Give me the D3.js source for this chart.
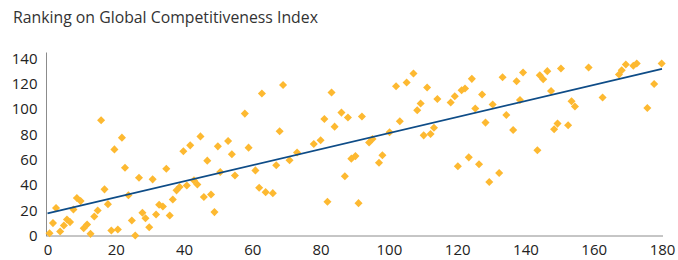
<!DOCTYPE html>
<html><head><meta charset="utf-8">
<script src="https://cdn.jsdelivr.net/npm/d3@7"></script>
<style>body{margin:0;background:#fff}svg{display:block}</style>
</head><body><div id="chart"></div>
<script>
const title = "Ranking on Global Competitiveness Index";
const xTicks = [0,20,40,60,80,100,120,140,160,180];
const yTicks = [0,20,40,60,80,100,120,140];
const xs = [0.6,1.6,2.5,3.7,4.8,5.7,6.6,7.6,8.6,9.7,10.6,11.6,12.6,13.7,14.7,15.7,16.7,17.7,18.7,19.6,20.6,21.8,22.7,23.7,24.7,25.7,26.8,27.8,28.7,29.8,30.8,31.8,32.7,33.8,34.8,35.8,36.7,37.8,38.7,39.8,40.8,41.8,42.9,43.9,44.8,45.8,46.8,47.9,48.9,49.9,50.6,52.9,54.0,54.9,57.8,58.9,60.9,62.0,62.8,63.9,66.0,67.0,68.0,69.0,70.9,73.1,78.0,80.0,81.1,82.0,83.2,84.1,86.1,87.1,88.0,89.0,90.2,91.1,92.1,94.2,95.2,97.1,98.1,100.2,102.1,103.2,105.2,107.2,108.3,109.3,110.2,111.2,112.2,113.2,114.2,118.1,119.3,120.2,121.3,122.3,123.4,124.3,125.3,126.4,127.3,128.3,129.4,130.4,132.3,133.3,134.4,136.4,137.4,138.4,139.3,143.5,144.2,145.2,146.4,147.5,148.4,149.4,150.4,152.5,153.5,154.5,158.5,162.6,167.4,168.2,169.4,171.6,172.6,175.7,177.7,179.9];
const ys = [1.8,9.8,21.7,3.2,7.9,12.7,10.6,20.6,29.6,27.2,5.8,8.7,1.3,15.1,19.8,91.1,36.5,24.8,4.0,68.1,4.8,77.4,53.6,31.9,11.9,0,45.7,18.0,13.7,6.6,44.4,16.6,24.3,23.0,52.8,15.8,28.5,35.7,38.3,66.6,39.6,71.3,43.6,40.4,78.4,30.4,59.2,32.5,18.5,70.5,50.2,74.7,64.3,47.5,96.4,69.5,51.5,37.8,112.3,34.3,33.5,55.5,82.4,119.1,59.5,65.6,72.3,75.3,92.2,26.7,113.1,86.1,97.2,46.8,93.3,60.8,62.8,25.6,94.1,73.5,76.3,57.6,63.5,81.6,118.1,90.3,121,128.1,99.0,104.4,79.2,117.0,80.3,85.3,108.0,105.2,110.1,54.7,114.9,116.2,61.8,123.9,100.4,56.3,111.5,89.3,42.3,103.6,49.4,125.2,95.3,83.4,122.0,107.2,128.9,67.4,126.8,123.6,130,114.3,84,88.5,132.1,87.2,106.2,102,132.9,109.1,127.3,130.7,135.3,134.2,136,100.9,119.9,136];
const trendX = [0,180];
const trendY = [17.5,131.8];

const W=678,H=260;
const svg=d3.select("#chart").append("svg").attr("width",W).attr("height",H);
const x=d3.scaleLinear().domain([0,180]).range([47.5,662]);
const y=d3.scaleLinear().domain([0,140]).range([235.5,58.5]);
const font="'Open Sans','Noto Sans',sans-serif";

svg.append("text").attr("x",13).attr("y",23).attr("font-family",font).attr("font-size",15.8).attr("fill","#333").text(title);

// axes lines
svg.append("line").attr("x1",46.5).attr("x2",46.5).attr("y1",52.5).attr("y2",236).attr("stroke","#8c8c8c").attr("stroke-width",1);
svg.append("line").attr("x1",46).attr("x2",663).attr("y1",236).attr("y2",236).attr("stroke","#8c8c8c").attr("stroke-width",1);

const yAxis=d3.axisLeft(y).tickValues(yTicks).tickSize(0).tickPadding(9);
const gy=svg.append("g").attr("transform","translate(46.5,0)").call(yAxis);
gy.select(".domain").remove();
gy.selectAll("text").attr("font-family",font).attr("font-size",15).attr("fill","#222");

const xAxis=d3.axisBottom(x).tickValues(xTicks).tickSize(0).tickPadding(8);
const gx=svg.append("g").attr("transform","translate(0,236)").call(xAxis);
gx.select(".domain").remove();
gx.selectAll("text").attr("font-family",font).attr("font-size",15).attr("fill","#222");

const pts=xs.map((v,i)=>({x:v,y:ys[i]}));
const s=5.7;
svg.append("g").selectAll("rect").data(pts).join("rect")
  .attr("x",-s/2).attr("y",-s/2).attr("width",s).attr("height",s)
  .attr("transform",d=>`translate(${x(d.x)},${y(d.y)}) rotate(45)`)
  .attr("fill","#FDB931");

svg.append("path").datum(trendX.map((v,i)=>[v,trendY[i]]))
  .attr("d",d3.line().x(d=>x(d[0])).y(d=>y(d[1])))
  .attr("fill","none").attr("stroke","#0E4C87").attr("stroke-width",1.6);
</script></body></html>
